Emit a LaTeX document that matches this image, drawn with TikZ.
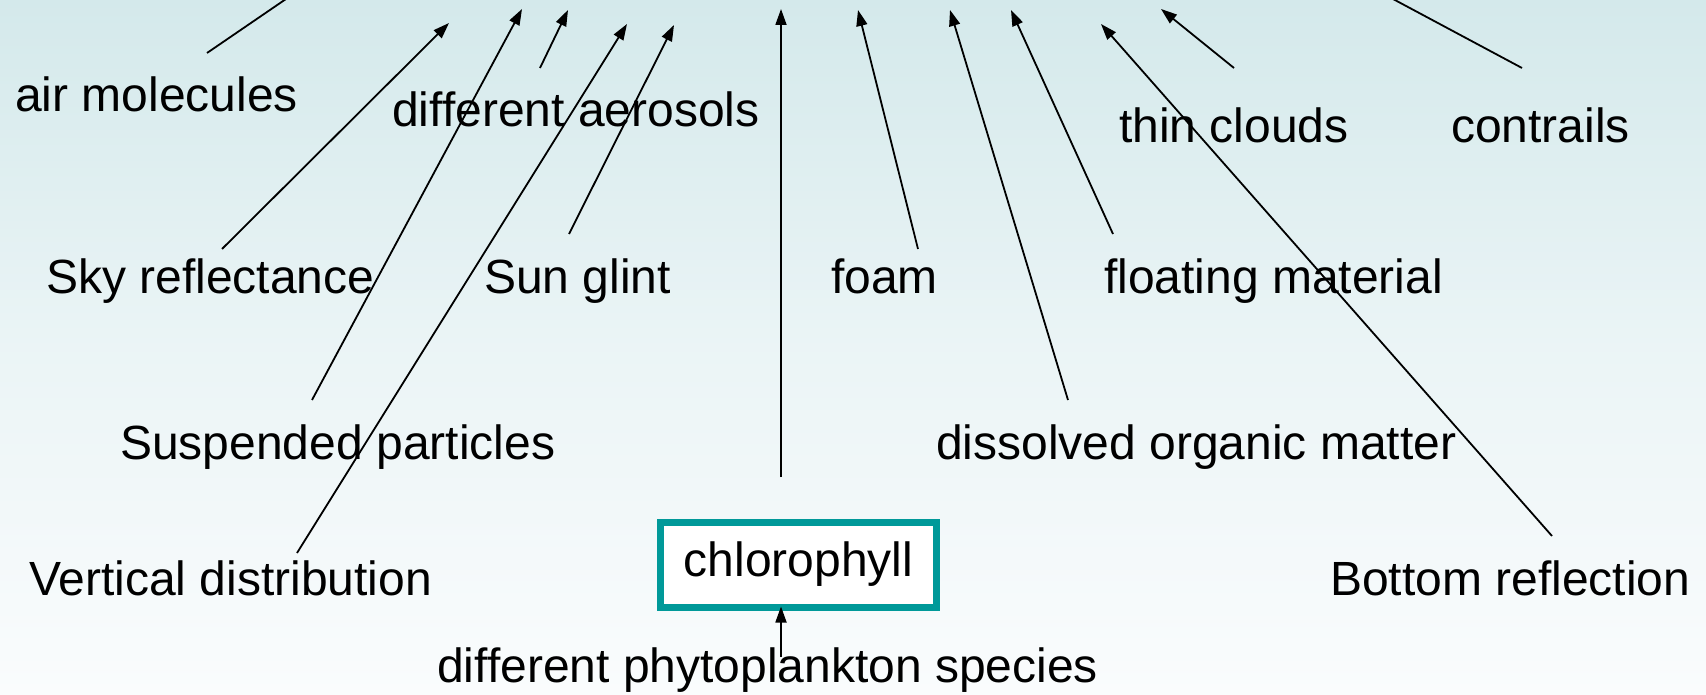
\documentclass[tikz,border=0pt]{standalone}
\usepackage{fontspec}
\setmainfont{Liberation Sans}
\usetikzlibrary{arrows.meta}
\definecolor{bgtop}{RGB}{212,233,235}
\definecolor{bgbot}{RGB}{250,252,253}
\definecolor{boxteal}{RGB}{0,153,153}
\tikzset{
  lbl/.style={anchor=base west, inner sep=0pt, font=\fontsize{48}{57}\selectfont},
  arr/.style={line width=1.8pt, -{Triangle[length=16pt,width=11pt]}},
  plainline/.style={line width=1.8pt},
  chlbox/.style={draw=boxteal, line width=7pt, fill=white, minimum width=276pt, minimum height=85pt, inner sep=0pt, font=\fontsize{48}{57}\selectfont}
}
\begin{document}
\begin{tikzpicture}[x=1pt,y=-1pt]
\useasboundingbox (0,0) rectangle (1706,695);
\shade[top color=bgtop, bottom color=bgbot, middle color={bgtop!40!bgbot}] (0,0) rectangle (1706,695);
\begin{scope}
\clip (0,0) rectangle (1706,695);
% labels
\node[lbl] (air) at (15,112) {air molecules};
\node[lbl] (aer) at (392,127) {different aerosols};
\node[lbl] (thin) at (1119,143) {thin clouds};
\node[lbl] (contr) at (1451,143) {contrails};
\node[lbl] (sky) at (46,294) {Sky reflectance};
\node[lbl] (sun) at (484,294) {Sun glint};
\node[lbl] (foam) at (831,293) {foam};
\node[lbl] (float) at (1104,293) {floating material};
\node[lbl] (susp) at (120,459) {Suspended particles};
\node[lbl] (dom) at (936,459) {dissolved organic matter};
\node[lbl] (vert) at (29,595) {Vertical distribution};
\node[lbl] (bott) at (1330,595) {Bottom reflection};
\node[lbl] (phyto) at (437,682) {different phytoplankton species};
\node[chlbox] (chl) at (798.5,564.5) {chlorophyll};
% connector coordinates
\coordinate (airS) at (207,53);   \coordinate (airE) at (286,-1);
\coordinate (skyS) at (222,249);  \coordinate (skyE) at (449,23);
\coordinate (suspS) at (312,400); \coordinate (suspE) at (522,9);
\coordinate (aerS) at (540,68);   \coordinate (aerE) at (568,10);
\coordinate (vertS) at (297,553); \coordinate (vertE) at (627,24);
\coordinate (sunS) at (569,234);  \coordinate (sunE) at (674,25);
\coordinate (chlS) at (781,477);  \coordinate (chlE) at (781,9);
\coordinate (foamS) at (918,249); \coordinate (foamE) at (858,10);
\coordinate (domS) at (1068,400); \coordinate (domE) at (950,10);
\coordinate (floatS) at (1113,234); \coordinate (floatE) at (1011,10);
\coordinate (bottS) at (1552,536); \coordinate (bottE) at (1101,24);
\coordinate (thinS) at (1234,68); \coordinate (thinE) at (1161,9);
\coordinate (contrS) at (1522,68); \coordinate (contrE) at (1393,-1);
\coordinate (phytoS) at (781,657); \coordinate (phytoE) at (chl.south -| phytoS);
% connectors
\draw[plainline] (airS) -- (airE);
\draw[plainline] (contrS) -- (contrE);
\draw[arr] (skyS) -- (skyE);
\draw[arr] (suspS) -- (suspE);
\draw[arr] (aerS) -- (aerE);
\draw[arr] (vertS) -- (vertE);
\draw[arr] (sunS) -- (sunE);
\draw[arr] (chlS) -- (chlE);
\draw[arr] (foamS) -- (foamE);
\draw[arr] (domS) -- (domE);
\draw[arr] (floatS) -- (floatE);
\draw[arr] (bottS) -- (bottE);
\draw[arr] (thinS) -- (thinE);
\draw[arr] (phytoS) -- ([yshift=4pt]phytoE);
\end{scope}
\end{tikzpicture}
\end{document}
